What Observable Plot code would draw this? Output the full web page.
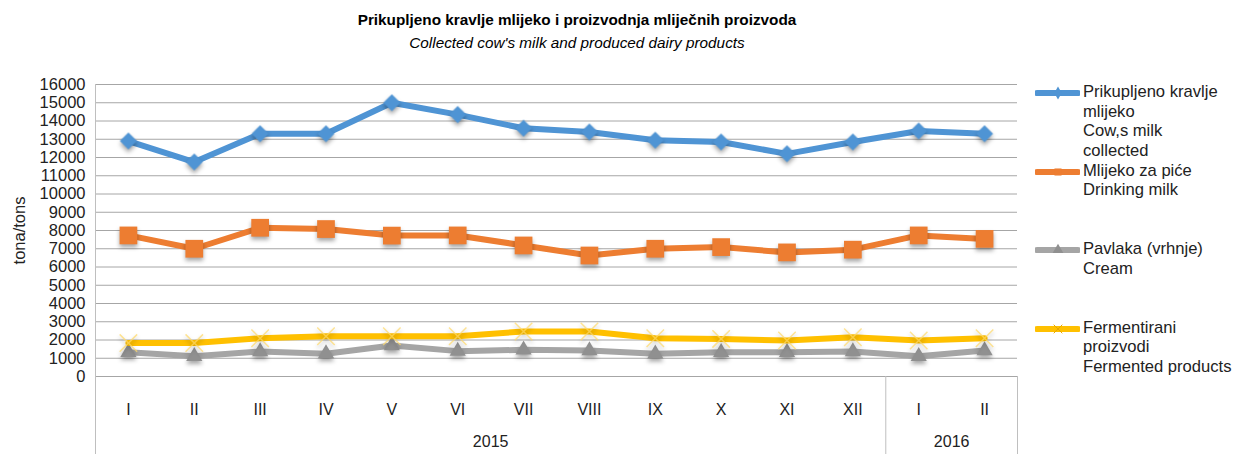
<!DOCTYPE html>
<html><head><meta charset="utf-8">
<script src="https://cdn.jsdelivr.net/npm/d3@7"></script>
<script src="https://cdn.jsdelivr.net/npm/@observablehq/plot@0.6"></script>
<style>
body{margin:0;background:#fff;font-family:"Liberation Sans",Arial,sans-serif;}
#wrap{position:relative;width:1238px;height:454px;overflow:hidden;}
#title{height:62px;width:1154px;text-align:center;color:#000;}
#t1{font-weight:bold;font-size:15.3px;padding-top:11px;line-height:18px;}
#t2{font-style:italic;font-size:15.3px;line-height:20px;margin-top:4px;}
#legend{position:absolute;left:1035px;top:82px;font-size:16.6px;color:#222;}
.item{height:78.5px;display:flex;align-items:flex-start;}
.item svg{flex:none;margin-top:1px;}
.item div{line-height:19.6px;margin-left:3px;white-space:nowrap;}
</style></head>
<body><div id="wrap">
<div id="title"><div id="t1">Prikupljeno kravlje mlijeko i proizvodnja mliječnih proizvoda</div><div id="t2">Collected cow's milk and produced dairy products</div></div>
<div id="chart"></div>
<div id="legend"></div>
</div>
<script>
const months = ["I","II","III","IV","V","VI","VII","VIII","IX","X","XI","XII","I","II"];
const yearLabels = ["2015","2016"];
const yearCounts = [12, 2];
const cowMilk = [12900,11750,13300,13300,15000,14350,13600,13400,12950,12850,12200,12850,13450,13300];
const drinkingMilk = [7730,7000,8150,8080,7720,7730,7180,6630,7000,7090,6800,6950,7730,7540];
const cream = [1330,1110,1370,1250,1700,1390,1460,1420,1240,1330,1330,1370,1110,1420];
const fermented = [1830,1830,2100,2210,2210,2210,2470,2470,2100,2060,1970,2150,1970,2100];
const seriesNames = [
  ["Prikupljeno kravlje","mlijeko","Cow,s milk","collected"],
  ["Mlijeko za piće","Drinking milk"],
  ["Pavlaka (vrhnje)","Cream"],
  ["Fermentirani","proizvodi","Fermented products"]
];
const yTicks = d3.range(0, 16001, 1000);

const colors = ["#4f94d4", "#ed7d31", "#a5a5a5", "#ffc000"];

// year group positions derived from counts
const bounds = [-0.5];
const mids = [];
let acc = 0;
yearCounts.forEach(c => { mids.push(acc + (c - 1) / 2); acc += c; bounds.push(acc - 0.5); });
const years = yearLabels.map((y, k) => ({label: y, x: mids[k]}));

const W = 1238, H = 392, mT = 22, mB = 78, mL = 95, mR = 221;
const plotH = H - mT - mB;

const rows = s => s.map((v, i) => ({i, v}));

const chart = Plot.plot({
  width: W, height: H,
  marginTop: mT, marginBottom: mB, marginLeft: mL, marginRight: mR,
  style: {fontFamily: "'Liberation Sans', Arial, sans-serif", fontSize: "16px", color: "#222", background: "#fff"},
  x: {domain: [-0.5, months.length - 0.5], axis: null},
  y: {domain: [0, 16000], axis: null},
  marks: [
    Plot.gridY(yTicks, {stroke: "#a6a6a6", strokeOpacity: 1, strokeWidth: 1}),
    Plot.ruleX([bounds[0]], {stroke: "#bfbfbf", strokeWidth: 1, insetBottom: -mB}),
    Plot.ruleX(bounds.slice(1), {stroke: "#bfbfbf", strokeWidth: 1, insetTop: plotH, insetBottom: -mB}),
    Plot.axisY(yTicks, {tickSize: 0, tickPadding: 10, fontSize: 16.5, tickFormat: d => String(d), label: "tona/tons", labelAnchor: "center", labelOffset: 82, labelArrow: "none"}),
    Plot.axisX(d3.range(months.length), {tickSize: 0, tickPadding: 27, tickFormat: i => months[i], fontSize: 16}),
    Plot.text(years, {x: "x", text: "label", frameAnchor: "bottom", dy: 70, fontSize: 16, fill: "#222"}),
    Plot.line(rows(cowMilk), {x: "i", y: "v", stroke: colors[0], strokeWidth: 6}),
    Plot.dot(rows(cowMilk), {x: "i", y: "v", symbol: "square", r: 6.8, rotate: 45, fill: colors[0]}),
    Plot.line(rows(drinkingMilk), {x: "i", y: "v", stroke: colors[1], strokeWidth: 6}),
    Plot.dot(rows(drinkingMilk), {x: "i", y: "v", symbol: "square", r: 10, fill: colors[1]}),
    Plot.line(rows(cream), {x: "i", y: "v", stroke: colors[2], strokeWidth: 6}),
    Plot.dot(rows(cream), {x: "i", y: "v", symbol: "triangle", r: 6, fill: "#909090"}),
    Plot.line(rows(fermented), {x: "i", y: "v", stroke: colors[3], strokeWidth: 6}),
    Plot.dot(rows(fermented), {x: "i", y: "v", symbol: "times", r: 8, stroke: "#ffd966", strokeOpacity: 0.7, strokeWidth: 1.5})
  ]
});
document.getElementById("chart").appendChild(chart);
chart.querySelectorAll('g[aria-label="dot"]').forEach(g => {
  g.style.filter = "drop-shadow(0px 3px 2px rgba(0,0,0,0.35))";
});

// legend
const legend = d3.select("#legend");
const symbols = ["diamond", "square", "triangle", "times"];
seriesNames.forEach((lines, k) => {
  const item = legend.append("div").attr("class", "item");
  const s = item.append("svg").attr("width", 45).attr("height", 20);
  s.append("line").attr("x1", 2).attr("x2", 43).attr("y1", 10).attr("y2", 10)
    .attr("stroke", colors[k]).attr("stroke-width", 6).attr("stroke-linecap", "round");
  const sym = {diamond: d3.symbolDiamond, square: d3.symbolSquare, triangle: d3.symbolTriangle, times: d3.symbolTimes}[symbols[k]];
  const p = s.append("path").attr("transform", "translate(23,10)").attr("d", d3.symbol(sym, 50)());
  if (symbols[k] === "times") p.attr("fill", "none").attr("stroke", "#e6a800").attr("stroke-width", 1);
  else p.attr("fill", k === 2 ? "#909090" : colors[k]);
  item.append("div").html(lines.join("<br>"));
});
</script>
</body></html>
